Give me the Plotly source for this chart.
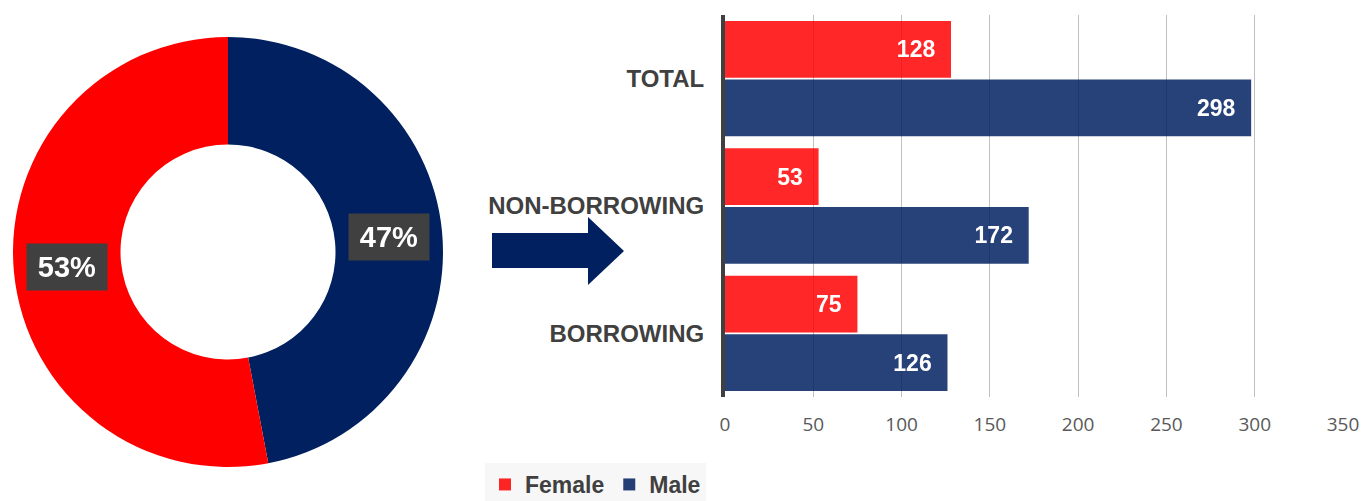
import math
import plotly.graph_objects as go

W, H = 1366, 501

# ---- data ----
pie_labels = ["Male", "Female"]
pie_values = [47, 53]
pie_colors = ["#002060", "#FF0000"]

categories = ["BORROWING", "NON-BORROWING", "TOTAL"]
female = [75, 53, 128]
male = [126, 172, 298]
x_ticks = [0, 50, 100, 150, 200, 250, 300, 350]


def px_x(p):
    return p / W


def px_y(p):
    return 1 - p / H


fig = go.Figure()

# donut geometry (pixels)
cx, cy, R = 228, 252, 215
hole = 0.5
fig.add_trace(go.Pie(
    labels=pie_labels, values=pie_values, hole=hole, sort=False,
    direction="clockwise", rotation=0,
    marker=dict(colors=pie_colors, line=dict(width=0)),
    textinfo="none", showlegend=False, hoverinfo="label+percent",
    domain=dict(x=[px_x(cx - R), px_x(cx + R)], y=[px_y(cy + R), px_y(cy - R)]),
))

# labels on donut, computed from slice mid-angles
total = sum(pie_values)
cum = 0
rmid = R * (1 + hole) / 2
for v in pie_values:
    mid = (cum + v / 2) / total * 2 * math.pi
    cum += v
    lx = cx + rmid * math.sin(mid)
    ly = cy - rmid * math.cos(mid)
    fig.add_annotation(
        x=px_x(lx), y=px_y(ly), xref="paper", yref="paper",
        xanchor="center", yanchor="middle",
        text=f"<b>{round(v / total * 100)}%</b>", showarrow=False,
        font=dict(family="Arial", size=29, color="white"),
        bgcolor="#404040", width=80, height=46, borderpad=0,
    )

# bars (male first so female sits on top in each group)
bar_font = dict(family="Arial", size=23, color="white", weight="bold")
fig.add_trace(go.Bar(
    y=categories, x=male, name="Male", orientation="h",
    marker=dict(color="#002060", line=dict(width=0)), opacity=0.85,
    texttemplate="%{x}  ", textposition="inside", insidetextanchor="end",
    textfont=bar_font, xaxis="x", yaxis="y",
))
fig.add_trace(go.Bar(
    y=categories, x=female, name="Female", orientation="h",
    marker=dict(color="#FF0000", line=dict(width=0)), opacity=0.85,
    texttemplate="%{x}  ", textposition="inside", insidetextanchor="end",
    textfont=bar_font, xaxis="x", yaxis="y",
))

# arrow
pts = [(492, 233), (588, 233), (588, 217), (624, 251), (588, 285), (588, 268), (492, 268)]
path = "M " + " L ".join(f"{px_x(a):.5f},{px_y(b):.5f}" for a, b in pts) + " Z"
fig.add_shape(type="path", path=path, xref="paper", yref="paper",
              fillcolor="#002060", line=dict(width=0))

fig.update_layout(
    width=W, height=H, margin=dict(l=0, r=0, t=0, b=0, autoexpand=False),
    paper_bgcolor="white", plot_bgcolor="white",
    barmode="group", bargap=0.08, bargroupgap=0.03,
    xaxis=dict(
        domain=[px_x(725), px_x(1343)], range=[0, 350], automargin=False,
        tickvals=x_ticks, showgrid=True, gridcolor="#BFBFBF", gridwidth=1,
        zeroline=False, showline=False, ticks="",
        tickfont=dict(family="Open Sans", size=19, color="#595959"),
        ticklabelstandoff=14,
    ),
    yaxis=dict(
        domain=[px_y(397), px_y(15)], automargin=False,
        showgrid=False, zeroline=False, showline=True,
        linecolor="#404040", linewidth=4, ticks="",
        tickfont=dict(family="Arial", size=24, color="#404040", weight="bold"),
        ticklabelstandoff=12,
    ),
    legend=dict(
        orientation="h", traceorder="reversed",
        xref="container", yref="container",
        x=px_x(485), y=px_y(463), xanchor="left", yanchor="top",
        bgcolor="#F7F7F7",
        font=dict(family="Arial", size=23, color="#404040", weight="bold"),
        itemwidth=30, itemsizing="constant",
    ),
)

fig.write_html("out.html", config={"displayModeBar": False},
               post_script="document.body.style.margin='0';")
